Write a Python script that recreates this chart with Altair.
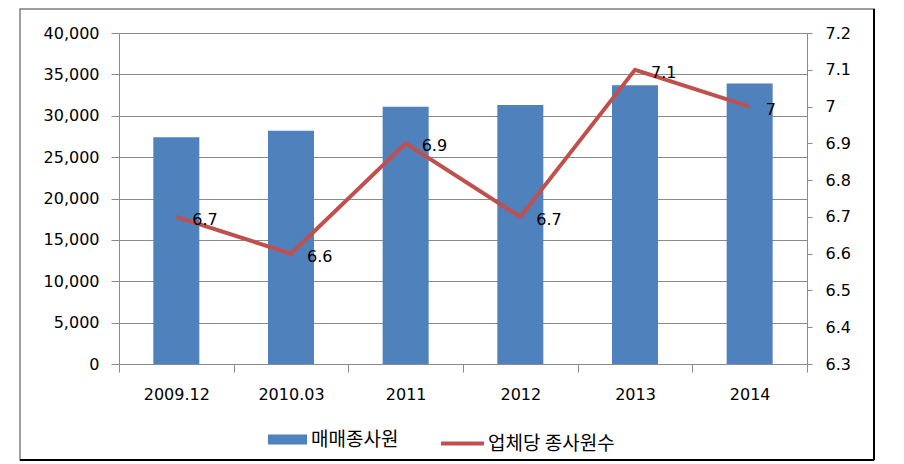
import altair as alt
import pandas as pd

periods = ["2009.12", "2010.03", "2011", "2012", "2013", "2014"]
employees = [27400, 28200, 31100, 31300, 33700, 33900]
per_firm = [6.7, 6.6, 6.9, 6.7, 7.1, 7.0]
per_firm_labels = ["6.7", "6.6", "6.9", "6.7", "7.1", "7"]
bar_name = "매매종사원"
line_name = "업체당 종사원수"
left_ticks = [0, 5000, 10000, 15000, 20000, 25000, 30000, 35000, 40000]
right_ticks = [6.3, 6.4, 6.5, 6.6, 6.7, 6.8, 6.9, 7.0, 7.1, 7.2]

df = pd.DataFrame({
    "period": periods,
    "employees": employees,
    "per_firm": per_firm,
    "label": per_firm_labels,
    "bar_series": [bar_name] * len(periods),
    "line_series": [line_name] * len(periods),
})

FONT = "DejaVu Sans"
KFONT = "Noto Sans CJK KR"
GRID = "#8a8a8a"
BLUE = "#4F81BD"
RED = "#C0504D"

W, H = 688, 331

xenc = alt.X(
    "period:N", sort=periods,
    scale=alt.Scale(paddingInner=0, paddingOuter=0),
    axis=alt.Axis(title=None, labelAngle=0, tickBand="extent", tickSize=8,
                  labelPadding=14, domainColor=GRID, tickColor=GRID,
                  labelFont=FONT, labelFontSize=16, labelColor="black", grid=False),
)

bars = alt.Chart(df).mark_bar(size=46).encode(
    x=xenc,
    y=alt.Y("employees:Q", scale=alt.Scale(domain=[0, 40000], nice=False),
            axis=alt.Axis(title=None, values=left_ticks, format=",.0f", grid=True,
                          gridColor=GRID, gridWidth=1, domainColor=GRID, tickColor=GRID,
                          tickSize=8, labelPadding=12, labelFont=FONT, labelFontSize=16,
                          labelColor="black")),
    color=alt.Color("bar_series:N", scale=alt.Scale(domain=[bar_name], range=[BLUE]),
                    legend=alt.Legend(title=None, orient="none", legendX=149, legendY=387,
                                      symbolType="M-1,-0.26H1V0.26H-1Z", symbolSize=1521,
                                      symbolStrokeWidth=0, labelFont=KFONT, labelFontSize=19,
                                      labelColor="black", labelOffset=4, padding=0)),
)

yr = alt.Scale(domain=[6.3, 7.2], nice=False, zero=False)

line = alt.Chart(df).mark_line(strokeWidth=4).encode(
    x=alt.X("period:N", sort=periods),
    y=alt.Y("per_firm:Q", scale=yr,
            axis=alt.Axis(title=None, orient="right", values=right_ticks, format="~g",
                          grid=False, domainColor=GRID, tickColor=GRID, tickSize=5,
                          labelPadding=13, labelFont=FONT, labelFontSize=16,
                          labelColor="black")),
    color=alt.Color("line_series:N", scale=alt.Scale(domain=[line_name], range=[RED]),
                    legend=alt.Legend(title=None, orient="none", legendX=320, legendY=387,
                                      symbolType="stroke", symbolSize=1849,
                                      symbolStrokeWidth=4, labelFont=KFONT, labelFontSize=19,
                                      labelColor="black", labelOffset=2, padding=0)),
)

labels = alt.Chart(df).mark_text(align="left", dx=16, dy=3, font=FONT, fontSize=16,
                                 color="black").encode(
    x=alt.X("period:N", sort=periods),
    y=alt.Y("per_firm:Q", scale=yr, axis=None),
    text="label:N",
)

frame_data = alt.Data(values=[{"k": 1}])
frame = alt.Chart(frame_data).mark_rect(filled=False, stroke="#7f7f7f", strokeWidth=1.5).encode(
    x=alt.value(-99), x2=alt.value(755), y=alt.value(-24), y2=alt.value(427)
)
frame_bottom = alt.Chart(frame_data).mark_rule(stroke="#000000", strokeWidth=2).encode(
    x=alt.value(-99), x2=alt.value(755), y=alt.value(427)
)
frame_right = alt.Chart(frame_data).mark_rule(stroke="#000000", strokeWidth=2).encode(
    x=alt.value(755), y=alt.value(-24), y2=alt.value(427)
)

chart = alt.layer(bars, line, labels, frame, frame_bottom, frame_right).resolve_scale(
    y="independent", color="independent"
).properties(
    width=W, height=H,
    autosize=alt.AutoSizeParams(type="none"),
    padding={"left": 119, "top": 33, "right": 97, "bottom": 100},
    background="white",
).configure_view(stroke=None)

chart.save("out.html", embed_options={"renderer": "svg", "actions": False})
